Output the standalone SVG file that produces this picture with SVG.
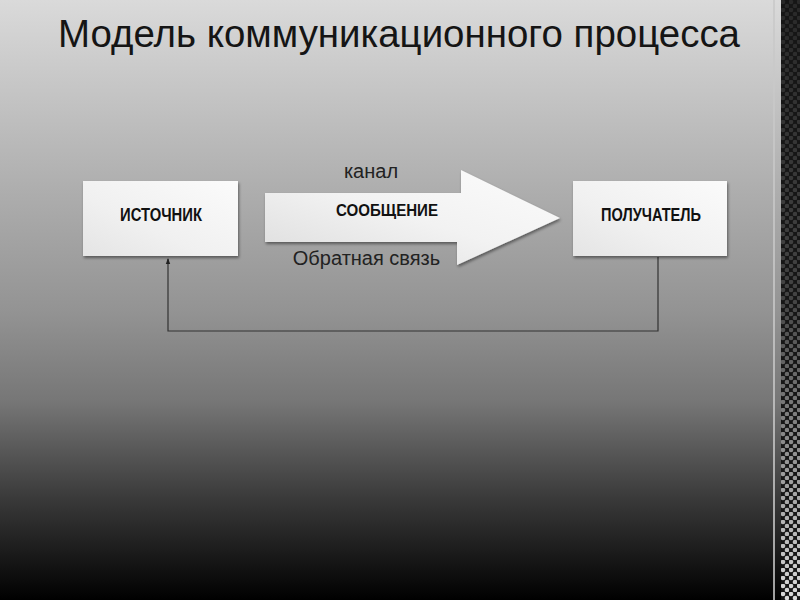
<svg xmlns="http://www.w3.org/2000/svg" width="800" height="600" viewBox="0 0 800 600">
<defs>
<linearGradient id="bg" x1="0" y1="0" x2="0" y2="1">
<stop offset="0" stop-color="#dadada"/>
<stop offset="0.33" stop-color="#acacac"/>
<stop offset="0.52" stop-color="#939393"/>
<stop offset="0.67" stop-color="#767676"/>
<stop offset="0.83" stop-color="#3a3a3a"/>
<stop offset="1" stop-color="#000"/>
</linearGradient>
<linearGradient id="boxfill" x1="0" y1="1" x2="1" y2="0">
<stop offset="0" stop-color="#e4e4e4"/>
<stop offset="0.4" stop-color="#f0f0f0"/>
<stop offset="1" stop-color="#fbfbfb"/>
</linearGradient>
<linearGradient id="arrowfill" x1="0" y1="1" x2="1" y2="0">
<stop offset="0" stop-color="#dcdcdc"/>
<stop offset="0.5" stop-color="#f2f2f2"/>
<stop offset="1" stop-color="#fcfcfc"/>
</linearGradient>
<linearGradient id="dotfade" x1="0" y1="0" x2="0" y2="1">
<stop offset="0" stop-color="#fff" stop-opacity="0.08"/>
<stop offset="0.5" stop-color="#fff" stop-opacity="0.2"/>
<stop offset="1" stop-color="#fff" stop-opacity="0.85"/>
</linearGradient>
<pattern id="weave" x="781" y="0" width="8" height="8" patternUnits="userSpaceOnUse">
<circle cx="2" cy="2" r="2.3" fill="#fff"/>
<circle cx="6" cy="6" r="2.3" fill="#fff"/>
</pattern>
<mask id="dotmask">
<rect x="781" y="0" width="19" height="600" fill="url(#weave)"/>
</mask>
<filter id="shadow" x="-10%" y="-10%" width="125%" height="135%">
<feDropShadow dx="1" dy="2" stdDeviation="1.5" flood-color="#000" flood-opacity="0.45"/>
</filter>
<marker id="arr" viewBox="0 0 6 6" refX="5" refY="3" markerWidth="6" markerHeight="6" orient="auto" markerUnits="userSpaceOnUse">
<path d="M0,0.8 L6,3 L0,5.2 Z" fill="#222"/>
</marker>
<style>
.title{font-family:"Liberation Sans",Arial,sans-serif;font-size:38px;fill:#151515}
.boxlabel{font-family:"Liberation Sans",Arial,sans-serif;font-size:18px;font-weight:bold;fill:#111}
.label{font-family:"Liberation Sans",Arial,sans-serif;font-size:20px;fill:#222}
.node{fill:url(#boxfill);filter:url(#shadow)}
.conn{fill:none;stroke:#333;stroke-width:1.2}
</style>
</defs>
<rect x="0" y="0" width="800" height="600" fill="url(#bg)"/>
<rect x="773" y="0" width="2" height="600" fill="#c8c8c8" opacity="0.8"/>
<rect x="781" y="0" width="19" height="600" fill="#161616"/>
<rect x="781" y="0" width="19" height="600" fill="url(#dotfade)" mask="url(#dotmask)"/>

<text class="title" x="58" y="47" textLength="682" lengthAdjust="spacingAndGlyphs">Модель коммуникационного процесса</text>

<g id="connectors">
<path class="conn" d="M658,257 V331 H168 V259" marker-end="url(#arr)"/>
</g>

<g id="source">
<rect class="node" x="83" y="181" width="155" height="75"/>
<text class="boxlabel" x="161" y="221" text-anchor="middle" textLength="82" lengthAdjust="spacingAndGlyphs">ИСТОЧНИК</text>
</g>

<g id="message">
<path d="M265,193 H461 V170 L560,218 L457,265 V242 H265 Z" fill="url(#arrowfill)" filter="url(#shadow)"/>
<text class="boxlabel" x="387" y="216" text-anchor="middle" textLength="102" lengthAdjust="spacingAndGlyphs" style="font-size:17px">СООБЩЕНИЕ</text>
</g>

<g id="receiver">
<rect class="node" x="573" y="181" width="154" height="75"/>
<text class="boxlabel" x="651" y="221" text-anchor="middle" textLength="100" lengthAdjust="spacingAndGlyphs">ПОЛУЧАТЕЛЬ</text>
</g>

<text class="label" x="371" y="178" text-anchor="middle">канал</text>
<text class="label" x="366.5" y="265" text-anchor="middle">Обратная связь</text>
</svg>
